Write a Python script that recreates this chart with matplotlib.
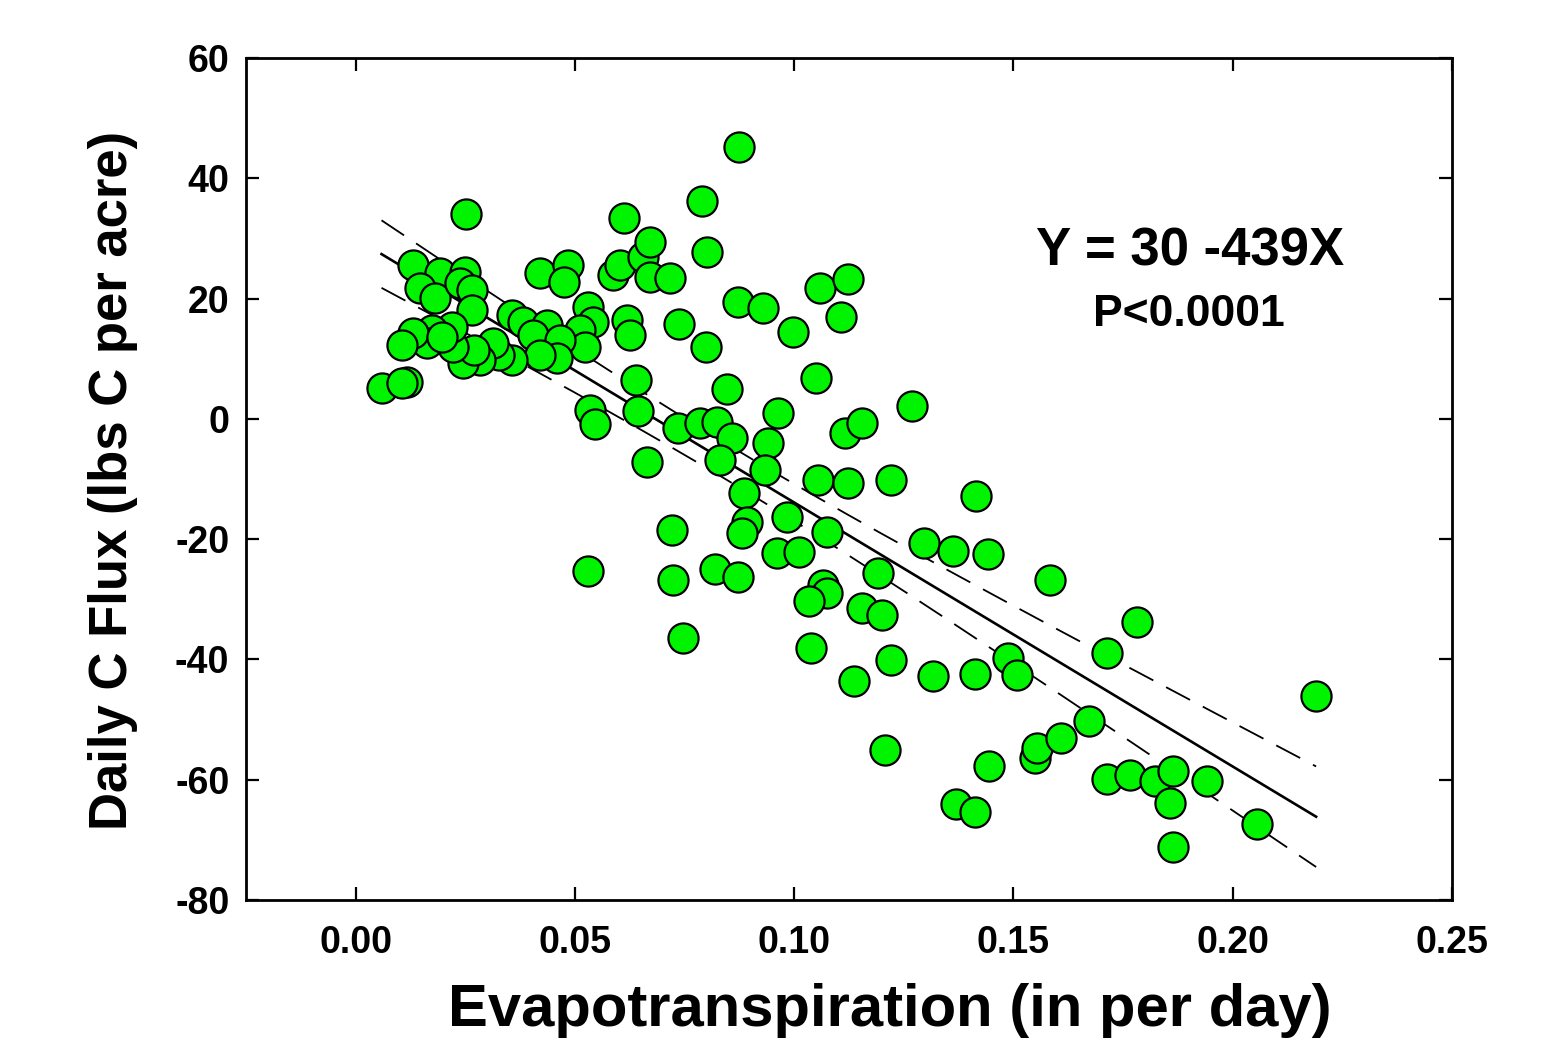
import numpy as np
import matplotlib
matplotlib.use('Agg')
import matplotlib.pyplot as plt

# evapotranspiration (in per day) and daily C flux (lbs C per acre)
et = [0.0251, 0.0130, 0.0192, 0.0249, 0.0146, 0.0180, 0.0237, 0.0265, 0.0265, 0.0420,
      0.0484, 0.0474, 0.0529, 0.0541, 0.0356, 0.0381, 0.0436, 0.0404, 0.0511, 0.0522,
      0.0465, 0.0458, 0.0420, 0.0356, 0.0328, 0.0313, 0.0283, 0.0244, 0.0271, 0.0221,
      0.0219, 0.0173, 0.0162, 0.0130, 0.0105, 0.0198, 0.0116, 0.0059, 0.0105,
      0.0586, 0.0602, 0.0611, 0.0655, 0.0671, 0.0671, 0.0716, 0.0618, 0.0625, 0.0789,
      0.0801, 0.0874, 0.0871, 0.0928, 0.0997, 0.1058, 0.1122, 0.1106, 0.0798, 0.0737,
      0.1049, 0.0639, 0.0846, 0.0643, 0.0534, 0.0545, 0.0963, 0.0734, 0.0785, 0.0823,
      0.0858, 0.0830, 0.0940, 0.0933, 0.0664, 0.1115, 0.1154, 0.1268,
      0.0721, 0.0529, 0.0723, 0.0819, 0.0871, 0.0746, 0.0885, 0.0892, 0.0880, 0.0983,
      0.0960, 0.1010, 0.1074, 0.1191, 0.1065, 0.1074, 0.1033, 0.1154, 0.1200, 0.1038,
      0.1220, 0.1136, 0.1316, 0.1054, 0.1122, 0.1220, 0.1296, 0.1414, 0.1362, 0.1442,
      0.1583, 0.1412, 0.1487, 0.1508, 0.1781, 0.1713, 0.2190, 0.1207, 0.1444, 0.1549,
      0.1553, 0.1608, 0.1672, 0.1369, 0.1412, 0.1713, 0.1766, 0.1823, 0.1864, 0.1941,
      0.1857, 0.1864, 0.2055]
flux = [34.1, 25.6, 24.3, 24.4, 21.8, 20.1, 22.6, 21.4, 18.1, 24.3,
        25.6, 22.8, 18.6, 16.1, 17.3, 16.1, 15.6, 13.9, 14.8, 11.9,
        13.1, 10.1, 10.6, 9.8, 10.6, 12.6, 9.8, 9.3, 11.4, 11.9,
        15.3, 14.8, 12.6, 14.3, 12.3, 13.6, 6.1, 5.1, 6.0,
        23.9, 25.6, 33.4, 26.9, 29.4, 23.6, 23.4, 16.4, 13.9, 36.2,
        27.7, 45.2, 19.4, 18.4, 14.4, 21.8, 23.3, 16.9, 11.9, 15.8,
        6.8, 6.5, 5.0, 1.3, 1.5, -0.9, 1.0, -1.5, -0.7, -0.5,
        -3.2, -6.8, -4.0, -8.5, -7.2, -2.4, -0.7, 2.1,
        -18.5, -25.3, -26.8, -25.0, -26.3, -36.4, -12.3, -17.2, -19.0, -16.3,
        -22.3, -22.1, -18.8, -25.6, -27.6, -29.0, -30.3, -31.5, -32.6, -38.1,
        -40.1, -43.6, -42.8, -10.2, -10.7, -10.2, -20.6, -12.8, -22.0, -22.5,
        -26.8, -42.4, -39.8, -42.6, -33.8, -38.9, -46.1, -55.1, -57.7, -56.4,
        -54.7, -53.1, -50.2, -64.0, -65.4, -59.9, -59.2, -60.2, -58.6, -60.2,
        -63.9, -71.2, -67.4]

# regression reported on the chart
intercept = 30.0
slope = -439.0

x_ticks = [0.00, 0.05, 0.10, 0.15, 0.20, 0.25]
y_ticks = [-80, -60, -40, -20, 0, 20, 40, 60]

plt.rcParams['font.family'] = ['Liberation Sans', 'DejaVu Sans']
plt.rcParams['font.weight'] = 'bold'
plt.rcParams['axes.unicode_minus'] = False


def main():
    x = np.array(et)
    y = np.array(flux)

    # 95% confidence band around the reported line
    n = len(x)
    resid = y - (intercept + slope * x)
    s = np.sqrt(np.sum(resid ** 2) / (n - 2))
    xm = x.mean()
    sxx = np.sum((x - xm) ** 2)
    xf = np.linspace(x.min(), x.max(), 200)
    yf = intercept + slope * xf
    hw = 1.975 * s * np.sqrt(1.0 / n + (xf - xm) ** 2 / sxx)

    fig = plt.figure(figsize=(15.58, 10.41), dpi=100)
    ax = fig.add_axes([0.1579, 0.1354, 0.7741, 0.8088])

    ax.plot(xf, yf, color='black', lw=1.9, zorder=2)
    ax.plot(xf, yf + hw, color='black', lw=1.3, dashes=(15, 8), zorder=2)
    ax.plot(xf, yf - hw, color='black', lw=1.3, dashes=(15, 8), zorder=2)
    ax.scatter(x, y, s=470, color='#00f400', edgecolor='black', linewidth=1.6, zorder=3)

    ax.set_xlim(-0.025, 0.25)
    ax.set_ylim(-80, 60)
    ax.set_xticks(x_ticks)
    ax.set_xticklabels(['{:.2f}'.format(t) for t in x_ticks])
    ax.set_yticks(y_ticks)
    ax.tick_params(direction='in', top=True, right=True, length=9.5, width=1.6,
                   labelsize=27)
    ax.tick_params(axis='x', pad=18)
    ax.tick_params(axis='y', pad=12)
    for sp in ax.spines.values():
        sp.set_linewidth(2.0)

    ax.text(0.1903, 27.8, 'Y = 30 -439X', fontsize=38, fontweight='bold',
            ha='center', va='center')
    ax.text(0.1901, 17.3, 'P<0.0001', fontsize=32, fontweight='bold',
            ha='center', va='center')

    fig.text(890 / 1558, 0.014, 'Evapotranspiration (in per day)', fontsize=43,
             fontweight='bold', ha='center', va='baseline')
    fig.text(113 / 1558, 1 - 480 / 1041, 'Daily C Flux (lbs C per acre)', fontsize=38,
             fontweight='bold', ha='center', va='center', rotation=90)

    fig.savefig('out.png', dpi=100)


if __name__ == "__main__":
    main()
